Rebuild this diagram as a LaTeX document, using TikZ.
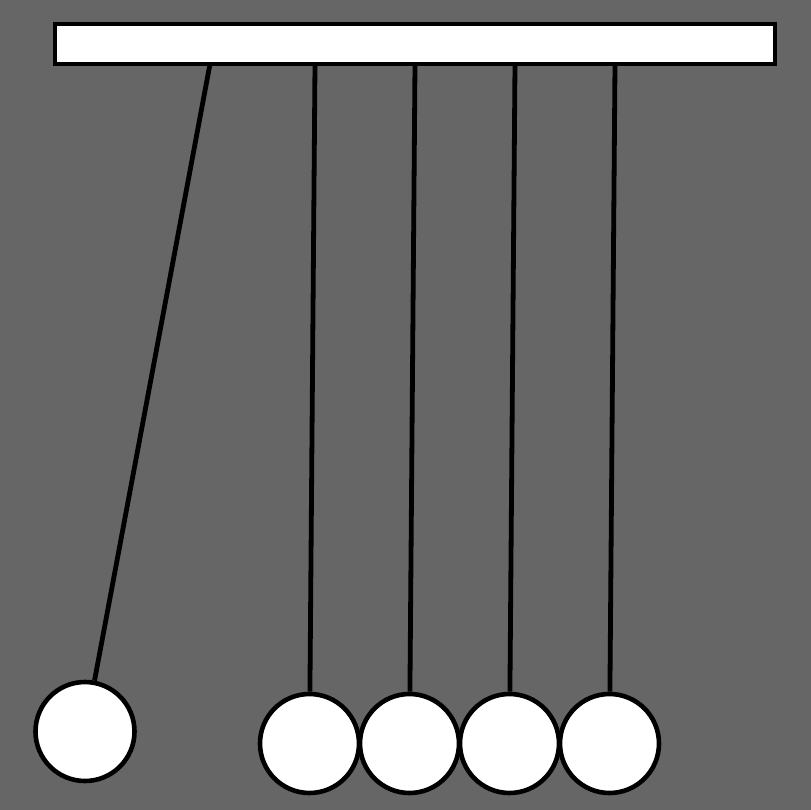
\documentclass[tikz,border=0pt]{standalone}
\definecolor{bg}{HTML}{666666}
\begin{document}
\begin{tikzpicture}[x=1pt,y=-1pt,
  ball/.style={circle,draw=black,fill=white,line width=4.6pt,minimum size=99pt,inner sep=0pt},
  barbox/.style={rectangle,draw=black,fill=white,line width=4.6pt,minimum width=720pt,minimum height=40pt,inner sep=0pt},
  wire/.style={draw=black,line width=4.8pt}]
\fill[bg] (0,0) rectangle (811,810);
\useasboundingbox (0,0) rectangle (811,810);
\node[barbox] (bar) at (415,44) {};
\coordinate (p1) at (210,64);
\coordinate (p2) at (315,64);
\coordinate (p3) at (415,64);
\coordinate (p4) at (515,64);
\coordinate (p5) at (615,64);
\node[ball] (b1) at (85,731.5) {};
\node[ball] (b2) at (309.5,743.5) {};
\node[ball] (b3) at (409.5,743.5) {};
\node[ball] (b4) at (509.5,743.5) {};
\node[ball] (b5) at (609.5,743.5) {};
\foreach \i in {1,...,5} {\draw[wire] (p\i) -- (b\i);}
\end{tikzpicture}
\end{document}
